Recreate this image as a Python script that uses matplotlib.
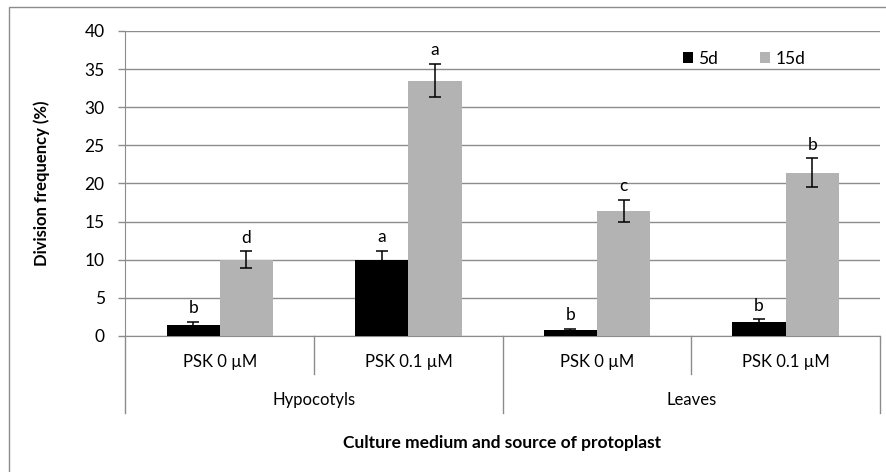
import matplotlib.pyplot as plt
from matplotlib.patches import Rectangle
import numpy as np

plt.rcParams["font.family"] = ["Lato", "DejaVu Sans"]

treatments = ["PSK 0 µM", "PSK 0.1 µM", "PSK 0 µM", "PSK 0.1 µM"]
sources = ["Hypocotyls", "Leaves"]
day5 = [1.5, 10.0, 0.75, 1.85]
day5_err = [0.35, 1.2, 0.2, 0.35]
day5_letters = ["b", "a", "b", "b"]
day15 = [10.0, 33.5, 16.4, 21.4]
day15_err = [1.1, 2.2, 1.5, 1.9]
day15_letters = ["d", "a", "c", "b"]

W, H = 887, 472
fig = plt.figure(figsize=(W / 100, H / 100), dpi=100)
ax = fig.add_axes([125.5 / W, 1 - 336 / H, (880 - 125.5) / W, (336 - 31) / H])

grid_c = "#8c8c8c"
x = np.arange(len(treatments))
bw = 0.282

ax.bar(x - bw / 2, day5, bw, color="black", label="5d", zorder=3)
ax.bar(x + bw / 2, day15, bw, color="#b3b3b3", label="15d", zorder=3)
ax.errorbar(x - bw / 2, day5, yerr=day5_err, fmt="none", ecolor="black",
            elinewidth=1.1, capsize=4.5, capthick=1.1, zorder=4)
ax.errorbar(x + bw / 2, day15, yerr=day15_err, fmt="none", ecolor="black",
            elinewidth=1.1, capsize=4.5, capthick=1.1, zorder=4)

for xi, v, e, s in zip(x - bw / 2, day5, day5_err, day5_letters):
    ax.annotate(s, (xi, v + e), xytext=(0, 4), textcoords="offset points",
                ha="center", va="bottom", fontsize=12.5)
for xi, v, e, s in zip(x + bw / 2, day15, day15_err, day15_letters):
    ax.annotate(s, (xi, v + e), xytext=(0, 4), textcoords="offset points",
                ha="center", va="bottom", fontsize=12.5)

ax.set_xlim(-0.5, 3.5)
ax.set_ylim(0, 40)
ax.set_yticks(range(0, 41, 5))
ax.yaxis.grid(True, color=grid_c, linewidth=1)
ax.set_axisbelow(True)
ax.tick_params(axis="y", length=5, width=1, color=grid_c, labelsize=12.5, pad=10)
ax.tick_params(axis="x", length=0, labelbottom=False)
for side in ["top", "right"]:
    ax.spines[side].set_visible(False)
ax.spines["left"].set_color(grid_c)
ax.spines["bottom"].set_color(grid_c)

# two-level category axis below the bars
tr = ax.get_xaxis_transform()
short_y = -(374 - 336) / 305
long_y = -(413 - 336) / 305
for b in [0.5, 2.5]:
    ax.plot([b, b], [0, short_y], transform=tr, color=grid_c, lw=1, clip_on=False)
for b in [-0.5, 1.5, 3.5]:
    ax.plot([b, b], [0, long_y], transform=tr, color=grid_c, lw=1, clip_on=False)
for xi, t in zip(x, treatments):
    ax.text(xi, -(362 - 336) / 305, t, transform=tr, ha="center", va="center",
            fontsize=12)
for i, s in enumerate(sources):
    ax.text(2 * i + 0.5, -(400 - 336) / 305, s, transform=tr, ha="center",
            va="center", fontsize=12)

fig.text(42 / W, 1 - 183 / H, "Division frequency (%)", rotation=90,
         ha="center", va="center", fontsize=12, fontweight="bold")
fig.text(502 / W, 1 - 443 / H, "Culture medium and source of protoplast",
         ha="center", va="center", fontsize=12.5, fontweight="bold")

ax.legend(loc="upper left", bbox_to_anchor=(674 / W, 1 - 42 / H),
          bbox_transform=fig.transFigure, ncol=2, frameon=False, fontsize=12.5,
          handlelength=0.6, handleheight=0.6, handletextpad=0.3,
          columnspacing=2.4, borderpad=0)

fig.patches.append(Rectangle((9 / W, -0.1), 1.2, 1 - 7 / H + 0.1,
                             transform=fig.transFigure, fill=False,
                             edgecolor="#8c8c8c", lw=1))

fig.savefig("out.png", dpi=100)
